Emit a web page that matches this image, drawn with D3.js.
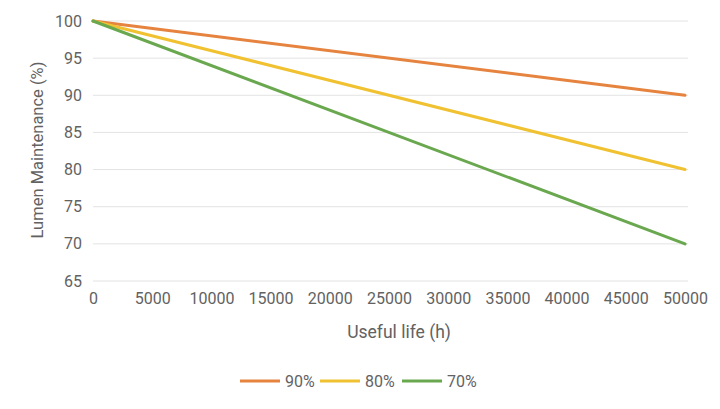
<!DOCTYPE html>
<html>
<head>
<meta charset="utf-8">
<script src="https://cdn.jsdelivr.net/npm/d3@7"></script>
<style>
  body { margin: 0; background: #fff; }
  text { font-family: Roboto, "Noto Sans", sans-serif; fill: #626262; }
</style>
</head>
<body>
<div id="chart"></div>
<script>
// Chart data
var hours = [0, 50000];
var seriesNames = ["90%", "80%", "70%"];
var seriesValues = [
    [100, 90],
    [100, 80],
    [100, 70]
];
var colors = ["#e5833f", "#f0c232", "#6aa84f"];
var xTicks = [0, 5000, 10000, 15000, 20000, 25000, 30000, 35000, 40000, 45000, 50000];
var yTicks = [65, 70, 75, 80, 85, 90, 95, 100];

var W = 720, H = 409;
var margin = {left: 93, right: 32, top: 21, bottom: 128};
var width = W - margin.left - margin.right;
var height = H - margin.top - margin.bottom;

var svg = d3.select("#chart").append("svg")
    .attr("width", W)
    .attr("height", H);

var chart = svg.append("g")
    .attr("transform", "translate(" + margin.left + "," + margin.top + ")");

var x = d3.scaleLinear().domain([0, 50000]).range([0, 592]);
var y = d3.scaleLinear().domain([65, 100]).range([height, 0]);

// Horizontal gridlines
chart.append("g")
    .selectAll("line")
    .data(yTicks)
    .enter()
    .append("line")
    .attr("x1", 0)
    .attr("x2", width)
    .attr("y1", function(d) { return y(d); })
    .attr("y2", function(d) { return y(d); })
    .attr("stroke", "#e3e3e3")
    .attr("stroke-width", 1);

// Y axis labels
var yAxis = d3.axisLeft(y).tickValues(yTicks).tickSize(0).tickPadding(11);
var yg = chart.append("g").call(yAxis);
yg.select(".domain").remove();
yg.selectAll("text").style("font-size", "16px").attr("fill", "#626262");

// X axis labels
var xAxis = d3.axisBottom(x).tickValues(xTicks).tickSize(0).tickPadding(12)
    .tickFormat(d3.format("d"));
var xg = chart.append("g")
    .attr("transform", "translate(0," + height + ")")
    .call(xAxis);
xg.select(".domain").remove();
xg.selectAll("text").style("font-size", "16px").attr("fill", "#626262");

// Axis titles
svg.append("text")
    .attr("x", 399)
    .attr("y", 338)
    .attr("text-anchor", "middle")
    .style("font-size", "17.5px")
    .text("Useful life (h)");

svg.append("text")
    .attr("transform", "translate(43,150) rotate(-90)")
    .attr("text-anchor", "middle")
    .style("font-size", "16.5px")
    .text("Lumen Maintenance (%)");

// Lines
var line = d3.line()
    .x(function(d, i) { return x(hours[i]); })
    .y(function(d) { return y(d); });

chart.append("g")
    .selectAll("path")
    .data(seriesValues)
    .enter()
    .append("path")
    .attr("d", line)
    .attr("fill", "none")
    .attr("stroke", function(d, i) { return colors[i]; })
    .attr("stroke-width", 3)
    .attr("stroke-linecap", "round");

// Legend
var legendX = [240, 320, 402];
var legend = svg.append("g")
    .selectAll("g")
    .data(seriesNames)
    .enter()
    .append("g")
    .attr("transform", function(d, i) { return "translate(" + legendX[i] + ",381)"; });

legend.append("line")
    .attr("x1", 0)
    .attr("x2", 40)
    .attr("stroke", function(d, i) { return colors[i]; })
    .attr("stroke-width", 3);

legend.append("text")
    .attr("x", 45)
    .attr("dy", "0.35em")
    .style("font-size", "16px")
    .text(function(d) { return d; });
</script>
</body>
</html>
